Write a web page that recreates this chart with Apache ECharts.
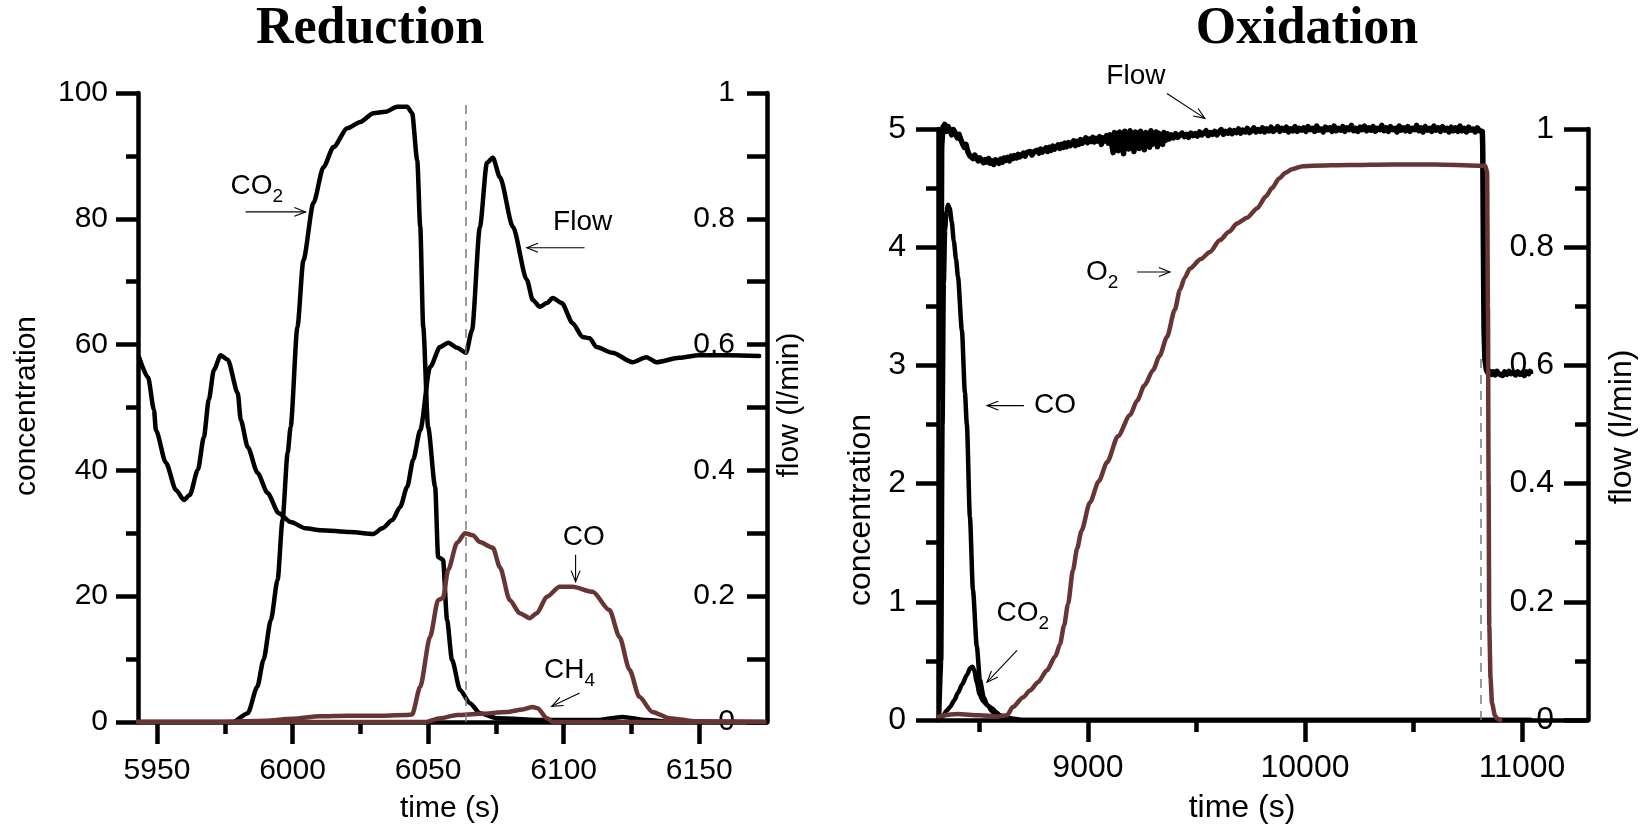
<!DOCTYPE html>
<html><head><meta charset="utf-8">
<script src="https://cdn.jsdelivr.net/npm/echarts@6/dist/echarts.min.js"></script>
<style>html,body{margin:0;padding:0;background:#fff}#c{width:1641px;height:824px}</style>
</head><body><div id="c"></div>
<script>
// ---------- tick values ----------
const redTicks = [5950, 6000, 6050, 6100, 6150];
const redMinorTicks = [5975, 6025, 6075, 6125];
const oxTicks = [9000, 10000, 11000];
const oxMinorTicks = [8500, 9500, 10500];

// ---------- Reduction: [time (s), value] ----------
const redCO2 = [[5943,0],[5978,0],[5983.5,1.4],[5987,5.6],[5989.3,9.9],[5992,16.2],[5994.5,22.6],[5996.3,32.1],[5998.2,42.8],[5999.3,46.9],[6001.8,62.8],[6004,73.4],[6007.7,82.5],[6011.4,88.2],[6015.1,91.4],[6020.2,94.4],[6025,95.4],[6029.8,96.8],[6034.2,97],[6038.6,97.8],[6042.3,97.8],[6044.1,96.8],[6046,89.3],[6047.1,78.7],[6048.2,62.8],[6050,46.9],[6052.6,37.4],[6053.7,26.2],[6055.5,25.8],[6057,16.2],[6058.8,9.9],[6061.8,5.1],[6065.4,3.0],[6069.1,1.4],[6075.4,0.6],[6093.8,0.3],[6112.1,0.3],[6121.7,0.8],[6130.5,0.3],[6140,0],[6174,0]];
const redCO = [[5943,0],[5975,0],[5990,0.2],[6000,0.5],[6010,0.9],[6020,1.0],[6030,1.0],[6042,1.1],[6044.1,1.2],[6047.1,5.6],[6050.7,13.5],[6053.7,19.4],[6055.5,19.7],[6057.4,24.2],[6060.7,28.5],[6063.6,30.0],[6066.5,29.7],[6069.1,28.6],[6073.9,27.7],[6076.5,24.6],[6080.1,19.4],[6083.8,17.3],[6087.5,16.5],[6090.1,17.3],[6093.8,19.9],[6098.5,21.5],[6103.3,21.5],[6110.7,20.7],[6116.9,17.8],[6120.6,13.5],[6124.3,8.3],[6127.9,4.0],[6132.7,1.6],[6139,0.6],[6149,0.1],[6174,0]];
const redCH4 = [[5943,0],[6049,0],[6054.4,0.6],[6060.7,1.1],[6069.1,1.3],[6079,1.6],[6084.9,2.0],[6088.6,2.4],[6090.4,2.2],[6093.8,0.6],[6096,0],[6174,0]];
const redFlow = [[5943.4,0.580],[5946.7,0.548],[5948.9,0.496],[5949.6,0.464],[5953.3,0.412],[5957,0.369],[5959.9,0.353],[5962.1,0.361],[5965.1,0.401],[5967.3,0.453],[5969.1,0.512],[5971,0.560],[5973.5,0.583],[5976.1,0.576],[5979.8,0.523],[5980.9,0.480],[5983.5,0.437],[5987.1,0.396],[5990.8,0.364],[5994.9,0.332],[5999.3,0.318],[6004.8,0.308],[6010.3,0.305],[6021.3,0.302],[6029.8,0.299],[6033.1,0.308],[6036.8,0.321],[6039.7,0.342],[6042.3,0.374],[6044.5,0.417],[6047.1,0.464],[6050.7,0.564],[6054.4,0.596],[6057.4,0.603],[6060.7,0.595],[6064,0.587],[6066.2,0.623],[6069.1,0.787],[6071.7,0.889],[6073.9,0.897],[6076.5,0.866],[6081.3,0.787],[6086.4,0.703],[6088.6,0.671],[6091.2,0.660],[6093.8,0.666],[6096,0.674],[6099.3,0.666],[6103.3,0.634],[6107,0.612],[6109.6,0.610],[6112.1,0.596],[6118,0.587],[6125.4,0.572],[6130.5,0.580],[6134.2,0.572],[6142.6,0.579],[6150,0.583],[6161,0.583],[6172.1,0.582]];

// ---------- Oxidation: [time (s), value] ----------
const oxCO = [[8314,0],[8324,0.5],[8330,2.5],[8336,3.7],[8342,4.15],[8348,4.3],[8355,4.36],[8363,4.33],[8372,4.22],[8382,4.05],[8392,3.9],[8401,3.75],[8419,3.3],[8433,2.77],[8442,2.5],[8456,1.72],[8470,1.1],[8488,0.62],[8502,0.34],[8520,0.19],[8535,0.13],[8560,0.07],[8590,0.03],[8630,0.01],[8700,0],[11040,0]];
const oxCO2 = [[8318,0],[8330,0.03],[8350,0.08],[8364,0.11],[8385,0.17],[8401,0.23],[8420,0.30],[8442,0.38],[8458,0.44],[8468,0.45],[8476,0.42],[8488,0.32],[8500,0.22],[8516,0.16],[8540,0.12],[8558,0.10],[8575,0.07],[8594,0.04],[8627,0.02],[8660,0.01],[8700,0],[11040,0]];
const oxO2 = [[8312,0.03],[8400,0.05],[8500,0.04],[8580,0.03],[8627,0.04],[8654,0.11],[8700,0.19],[8733,0.25],[8770,0.32],[8811,0.42],[8850,0.54],[8871,0.64],[8890,0.80],[8908,0.98],[8931,1.27],[8950,1.45],[8970,1.60],[9009,1.84],[9050,2.02],[9088,2.18],[9138,2.40],[9194,2.58],[9226,2.70],[9260,2.83],[9300,2.96],[9330,3.08],[9364,3.24],[9400,3.47],[9424,3.64],[9445,3.74],[9470,3.82],[9520,3.90],[9562,3.96],[9608,4.06],[9650,4.13],[9687,4.20],[9733,4.25],[9780,4.33],[9820,4.43],[9848,4.50],[9880,4.58],[9910,4.63],[9940,4.66],[9990,4.685],[10037,4.69],[10200,4.695],[10400,4.70],[10600,4.70],[10797,4.69],[10830,4.69],[10839,4.64],[10843,3.5],[10846,2.0],[10849,0.8],[10855,0.35],[10862,0.14],[10875,0.04],[10885,0.01],[10900,0]];
const oxFlow = [[8318,0.544],[8322,0.60],[8326,0.97],[8332,1.003],[8340,1.008],[8348,0.996],[8356,1.004],[8364,0.998],[8372,0.990],[8380,0.999],[8388,0.994],[8398,0.985],[8406,0.991],[8414,0.982],[8422,0.975],[8430,0.969],[8438,0.974],[8446,0.962],[8455,0.955],[8463,0.958],[8470,0.950],[8478,0.956],[8486,0.953],[8494,0.946],[8502,0.951],[8510,0.949],[8518,0.943],[8526,0.948],[8534,0.944],[8542,0.950],[8550,0.942],[8558,0.946],[8566,0.940],[8574,0.948],[8582,0.945],[8590,0.942],[8598,0.949],[8606,0.944],[8614,0.951],[8622,0.947],[8630,0.952],[8638,0.946],[8646,0.954],[8654,0.950],[8662,0.955],[8670,0.951],[8678,0.957],[8686,0.953],[8694,0.955],[8702,0.959],[8710,0.954],[8718,0.960],[8726,0.957],[8734,0.962],[8742,0.956],[8750,0.961],[8758,0.958],[8766,0.964],[8774,0.959],[8782,0.966],[8790,0.961],[8798,0.963],[8806,0.968],[8814,0.962],[8822,0.969],[8830,0.964],[8838,0.971],[8846,0.966],[8854,0.968],[8862,0.973],[8870,0.967],[8878,0.974],[8886,0.969],[8894,0.976],[8902,0.970],[8910,0.977],[8918,0.972],[8926,0.975],[8934,0.980],[8942,0.972],[8950,0.979],[8958,0.974],[8966,0.982],[8974,0.976],[8982,0.980],[8990,0.985],[8998,0.977],[9006,0.983],[9014,0.979],[9022,0.986],[9030,0.978],[9038,0.984],[9046,0.980],[9054,0.987],[9062,0.974],[9070,0.985],[9078,0.980],[9086,0.989],[9094,0.976],[9102,0.990],[9110,0.993],[9116,0.960],[9122,0.994],[9128,0.968],[9134,0.992],[9140,0.963],[9146,0.995],[9152,0.972],[9158,0.990],[9164,0.958],[9170,0.996],[9176,0.970],[9182,0.993],[9188,0.966],[9194,0.997],[9200,0.975],[9206,0.991],[9212,0.962],[9218,0.995],[9224,0.971],[9230,0.993],[9236,0.967],[9242,0.996],[9248,0.973],[9254,0.990],[9260,0.965],[9266,0.994],[9272,0.976],[9278,0.992],[9284,0.969],[9290,0.997],[9296,0.974],[9302,0.991],[9308,0.978],[9314,0.995],[9320,0.970],[9326,0.993],[9332,0.979],[9338,0.990],[9344,0.974],[9350,0.994],[9358,0.981],[9366,0.992],[9374,0.983],[9384,0.990],[9394,0.985],[9404,0.992],[9414,0.986],[9424,0.990],[9434,0.993],[9444,0.987],[9454,0.991],[9464,0.986],[9474,0.993],[9484,0.989],[9494,0.992],[9504,0.988],[9514,0.995],[9524,0.990],[9534,0.993],[9544,0.997],[9554,0.989],[9564,0.994],[9574,0.991],[9584,0.996],[9594,0.990],[9604,0.995],[9614,0.999],[9624,0.991],[9634,0.996],[9644,0.993],[9654,0.998],[9664,0.992],[9674,0.997],[9684,0.994],[9694,1.000],[9704,0.993],[9714,0.998],[9724,0.995],[9734,1.001],[9744,0.994],[9754,0.997],[9764,1.002],[9774,0.995],[9784,0.999],[9794,0.996],[9804,1.002],[9814,0.995],[9824,1.000],[9834,0.997],[9844,1.003],[9854,0.996],[9864,0.999],[9874,1.004],[9884,0.996],[9894,1.001],[9904,0.998],[9914,1.003],[9924,0.995],[9934,1.000],[9944,0.997],[9954,1.004],[9964,0.996],[9974,1.001],[9984,0.998],[9994,1.002],[10004,0.996],[10014,1.004],[10024,0.999],[10034,1.001],[10044,0.996],[10054,1.005],[10064,0.998],[10074,1.000],[10084,0.995],[10094,1.003],[10104,0.999],[10114,1.002],[10124,0.996],[10134,1.005],[10144,0.997],[10154,1.001],[10164,0.998],[10174,1.004],[10184,0.996],[10194,1.002],[10204,0.999],[10214,1.006],[10224,0.997],[10234,1.001],[10244,0.996],[10254,1.003],[10264,0.999],[10274,1.005],[10284,0.997],[10294,1.002],[10304,0.998],[10314,1.004],[10324,0.996],[10334,1.001],[10344,0.999],[10354,1.006],[10364,0.997],[10374,1.002],[10384,0.996],[10394,1.004],[10404,0.999],[10414,1.001],[10424,0.995],[10434,1.005],[10444,0.998],[10454,1.002],[10464,0.997],[10474,1.004],[10484,0.996],[10494,1.001],[10504,0.999],[10514,1.006],[10524,0.997],[10534,1.002],[10544,0.995],[10554,1.004],[10564,0.998],[10574,1.001],[10584,0.996],[10594,1.005],[10604,0.998],[10614,1.002],[10624,0.996],[10634,1.004],[10644,0.998],[10654,1.001],[10664,0.995],[10674,1.003],[10684,0.997],[10694,1.002],[10704,0.996],[10714,1.005],[10724,0.997],[10734,1.001],[10744,0.995],[10754,1.003],[10764,0.998],[10774,1.000],[10784,0.995],[10794,1.002],[10804,0.997],[10812,1.000],[10817,0.996],[10819,0.97],[10822,0.80],[10825,0.66],[10829,0.61],[10836,0.592],[10845,0.586],[10852,0.590],[10860,0.585],[10868,0.589],[10876,0.584],[10884,0.590],[10892,0.586],[10900,0.588],[10910,0.583],[10920,0.589],[10930,0.585],[10940,0.590],[10950,0.586],[10960,0.588],[10970,0.584],[10980,0.589],[10990,0.585],[11000,0.587],[11010,0.583],[11020,0.589],[11030,0.586],[11037,0.590]];

// dashed markers (time, top value on the concentration axis)
const redMarker = [6064, 98.4];
const oxMarker = [10811, 3.1];

// annotations: label, subscript, label centre, arrow from, arrow to (data coords)
const redNotes = [
  {main:'CO', sub:'2', at:[5986.8,85.1], from:[5982.7,81.1], to:[6004.8,81.1]},
  {main:'Flow', sub:'', at:[6107.0,79.5], from:[6107.7,75.4], to:[6086.4,75.4]},
  {main:'CO', sub:'', at:[6107.4,29.4], from:[6104.4,26.6], to:[6104.4,22.3]},
  {main:'CH', sub:'4', at:[6102.2,8.3], from:[6105.9,4.6], to:[6095.6,2.5]}
];
const oxNotes = [
  {main:'Flow', sub:'', at:[9221,5.45], from:[9364,5.30], to:[9539,5.09]},
  {main:'O', sub:'2', at:[9065,3.79], from:[9226,3.79], to:[9378,3.79]},
  {main:'CO', sub:'', at:[8848,2.66], from:[8705,2.66], to:[8535,2.66]},
  {main:'CO', sub:'2', at:[8700,0.90], from:[8673,0.59], to:[8535,0.32]}
];

const FONT = '"Liberation Sans", Arial, Helvetica, sans-serif';
const BROWN = '#683535';
const BLACK = '#000';
const AX_W = 4.5;

function xAxisMain(grid, min, max, ticks, fs, margin) {
  return {type:'value', gridIndex:grid, min:min, max:max, position:'bottom',
    axisLine:{show:true, onZero:false, lineStyle:{color:BLACK, width:AX_W}},
    axisTick:{show:true, customValues:ticks, length:22, lineStyle:{color:BLACK, width:AX_W}},
    axisLabel:{show:true, customValues:ticks, fontSize:fs, fontFamily:FONT, color:BLACK, margin:margin, formatter:(v)=>String(v)},
    splitLine:{show:false}};
}
function xAxisMinor(grid, min, max, ticks) {
  return {type:'value', gridIndex:grid, min:min, max:max, position:'bottom', offset:0,
    axisLine:{show:false, onZero:false},
    axisTick:{show:true, customValues:ticks, length:12, lineStyle:{color:BLACK, width:AX_W}},
    axisLabel:{show:false}, splitLine:{show:false}};
}
function yAxis(grid, pos, max, interval, inside, tickLen, minorLen, fs, margin) {
  return {type:'value', gridIndex:grid, position:pos, min:0, max:max, interval:interval,
    axisLine:{show:true, onZero:false, lineStyle:{color:BLACK, width:AX_W}},
    axisTick:{show:true, inside:inside, length:tickLen, lineStyle:{color:BLACK, width:AX_W}},
    minorTick:{show:true, splitNumber:2, length:minorLen, lineStyle:{color:BLACK, width:AX_W}},
    axisLabel:{show:true, inside:inside, fontSize:fs, fontFamily:FONT, color:BLACK, margin:margin},
    splitLine:{show:false}, minorSplitLine:{show:false}};
}
function lineSeries(name, data, xi, yi, color, width, smooth, extra) {
  return Object.assign({type:'line', name:name, data:data, xAxisIndex:xi, yAxisIndex:yi,
    showSymbol:false, symbol:'none', smooth:smooth, smoothMonotone:'x',
    lineStyle:{color:color, width:width, cap:'round', join:'round'}, silent:true, animation:false}, extra || {});
}
function dashMark(m) {
  return {silent:true, symbol:['none','none'], label:{show:false},
    lineStyle:{type:[9,7], color:'#7a7a7a', width:1.5},
    data:[[{coord:[m[0],0]},{coord:[m[0],m[1]]}]]};
}

const chart = echarts.init(document.getElementById('c'), null, {renderer:'canvas'});
chart.setOption({
  animation:false,
  backgroundColor:'#fff',
  grid:[{left:138, top:93, width:629, height:629}, {left:938, top:129, width:650, height:591}],
  xAxis:[
    xAxisMain(0, 5943, 6175, redTicks, 30, 34),
    xAxisMinor(0, 5943, 6175, redMinorTicks),
    xAxisMain(1, 8309, 11304, oxTicks, 32, 32),
    xAxisMinor(1, 8309, 11304, oxMinorTicks)
  ],
  yAxis:[
    yAxis(0, 'left', 100, 20, false, 22, 12, 30, 30),
    yAxis(0, 'right', 1, 0.2, true, 20, 20, 30, 32),
    yAxis(1, 'left', 5, 1, false, 22, 12, 32, 32),
    yAxis(1, 'right', 1, 0.2, true, 24, 13, 32, 34)
  ],
  series:[
    lineSeries('CO2', redCO2, 0, 0, BLACK, 4.5, 0.25),
    lineSeries('Flow', redFlow, 0, 1, BLACK, 4.5, 0.25),
    lineSeries('CH4', redCH4, 0, 0, BROWN, 4.5, 0.25),
    lineSeries('CO', redCO, 0, 0, BROWN, 4.5, 0.25, {markLine:dashMark(redMarker)}),
    lineSeries('Flow (ox)', oxFlow, 2, 3, BLACK, 5.5, false, {clip:false}),
    lineSeries('CO (ox)', oxCO, 2, 2, BLACK, 4.5, 0.25),
    lineSeries('CO2 (ox)', oxCO2, 2, 2, BLACK, 4.5, 0.25),
    lineSeries('O2', oxO2, 2, 2, BROWN, 4.5, 0.25, {markLine:dashMark(oxMarker)})
  ]
});

// ---------- titles, axis titles, annotations ----------
const g = [];
function txt(s, x, y, opts) {
  g.push(Object.assign({type:'text', x:x, y:y, silent:true, z:100,
    style:Object.assign({text:s, fill:BLACK, font:'30px ' + FONT, align:'center', verticalAlign:'middle'}, opts && opts.style)},
    opts && opts.el));
}
txt('Reduction', 370, 30, {style:{font:'bold 52px "Liberation Serif", "Times New Roman", serif'}});
txt('Oxidation', 1307, 30, {style:{font:'bold 52px "Liberation Serif", "Times New Roman", serif'}});
txt('concentration', 27, 406, {el:{rotation:Math.PI/2}});
txt('flow (l/min)', 790, 405, {el:{rotation:Math.PI/2}});
txt('time (s)', 450, 809);
txt('concentration', 861, 510, {el:{rotation:Math.PI/2}, style:{font:'32px ' + FONT}});
txt('flow (l/min)', 1622, 427, {el:{rotation:Math.PI/2}, style:{font:'32px ' + FONT}});
txt('time (s)', 1242, 808, {style:{font:'32px ' + FONT}});

function addNotes(notes, xi, yi) {
  const finder = {xAxisIndex:xi, yAxisIndex:yi};
  notes.forEach(n => {
    const p = chart.convertToPixel(finder, n.at);
    const a = chart.convertToPixel(finder, n.from);
    const b = chart.convertToPixel(finder, n.to);
    const rich = {m:{fontSize:28, fontFamily:FONT, lineHeight:40, fill:BLACK}, s:{fontSize:19, fontFamily:FONT, lineHeight:18, verticalAlign:'bottom', fill:BLACK}};
    const text = '{m|' + n.main + '}' + (n.sub ? '{s|' + n.sub + '}' : '');
    g.push({type:'text', x:p[0], y:p[1], silent:true, z:100,
      style:{text:text, rich:rich, align:'center', verticalAlign:'middle', fill:BLACK}});
    g.push({type:'polyline', silent:true, z:100, shape:{points:[a, b]}, style:{stroke:BLACK, lineWidth:1.1, fill:null}});
    const ang = Math.atan2(b[1]-a[1], b[0]-a[0]);
    const L = 12, phi = 0.38;
    const h1 = [b[0] - L*Math.cos(ang - phi), b[1] - L*Math.sin(ang - phi)];
    const h2 = [b[0] - L*Math.cos(ang + phi), b[1] - L*Math.sin(ang + phi)];
    g.push({type:'polyline', silent:true, z:100, shape:{points:[h1, b, h2]}, style:{stroke:BLACK, lineWidth:1.1, fill:null}});
  });
}
addNotes(redNotes, 0, 0);
addNotes(oxNotes, 2, 2);
chart.setOption({graphic:g});
</script>
</body></html>
